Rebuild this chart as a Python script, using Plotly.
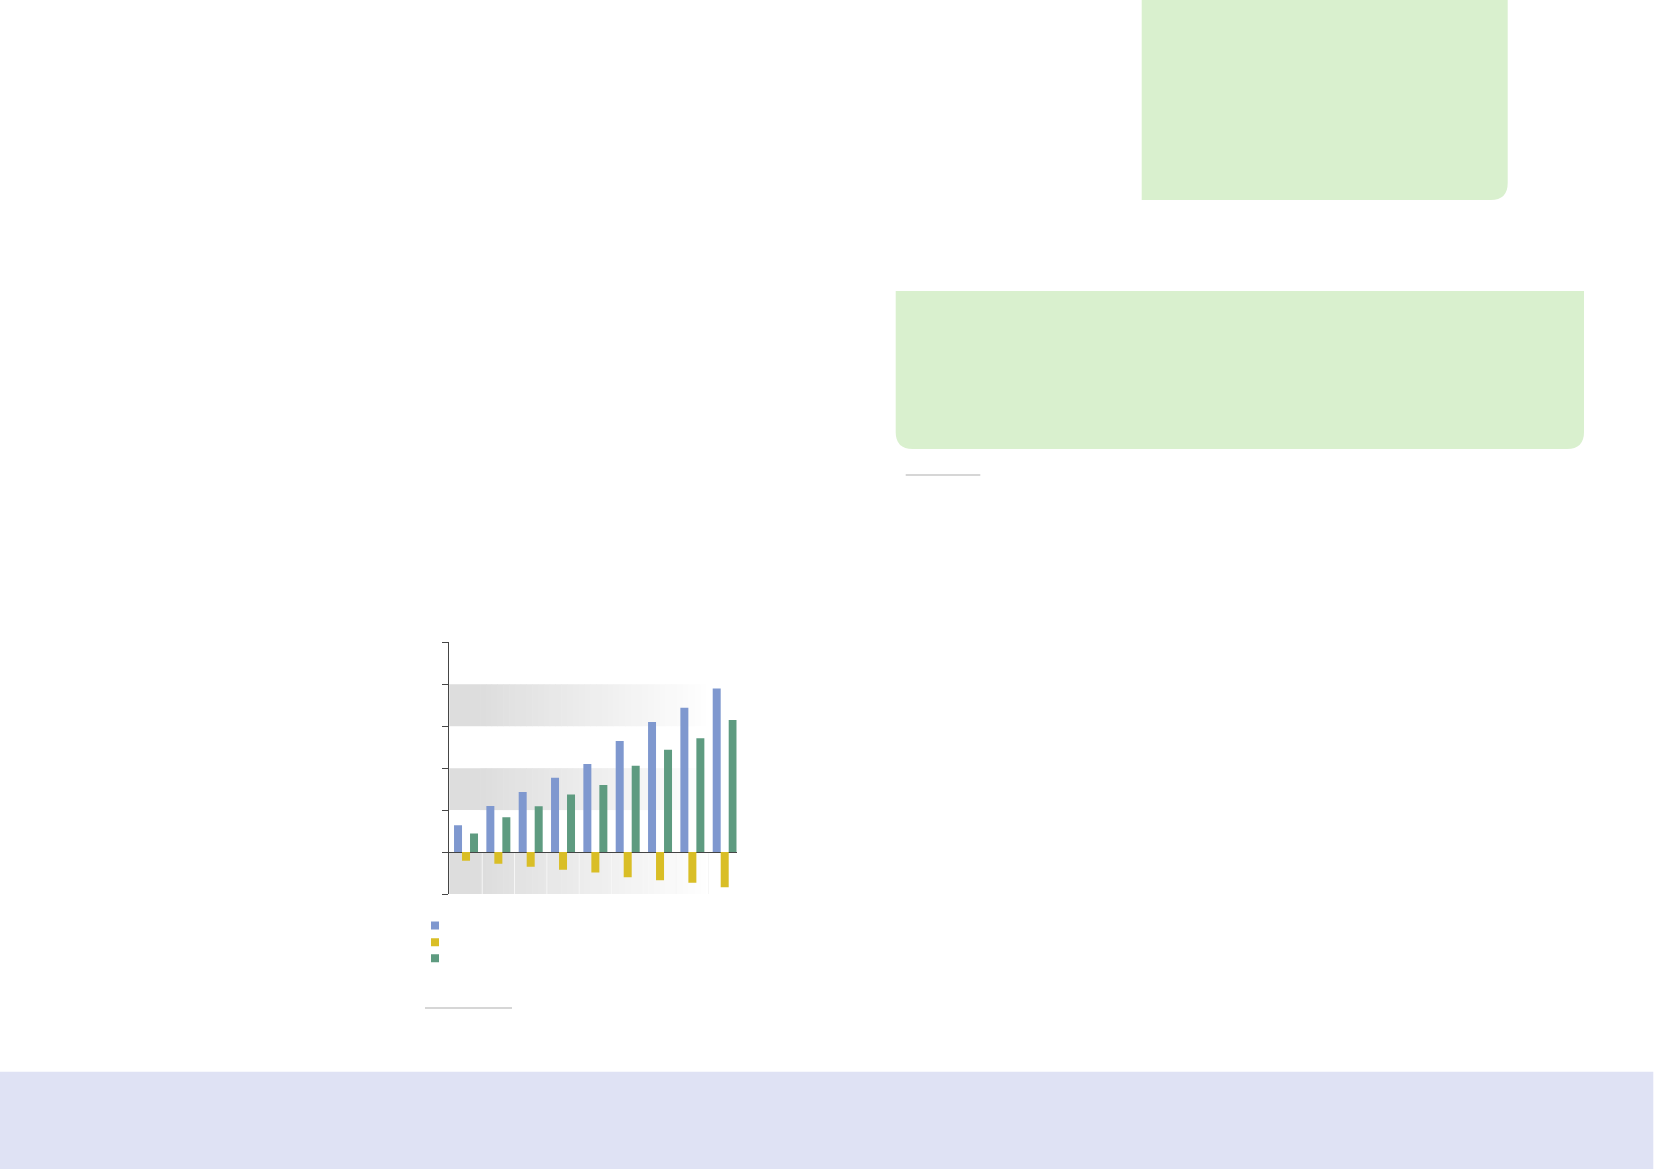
import plotly.graph_objects as go

W, H = 1654, 1169

# data (y units = one tick step)
categories = ["1", "2", "3", "4", "5", "6", "7", "8", "9"]
series_a = [0.64, 1.10, 1.43, 1.77, 2.10, 2.65, 3.10, 3.44, 3.90]
series_b = [-0.21, -0.28, -0.35, -0.42, -0.49, -0.60, -0.67, -0.73, -0.84]
series_c = [0.44, 0.83, 1.09, 1.37, 1.60, 2.06, 2.44, 2.71, 3.15]
y_ticks = [-1, 0, 1, 2, 3, 4, 5]

BLUE, YELLOW, GREEN = "#7f98cf", "#d9be26", "#5e9b80"
PALE_GREEN = "#d9f0ce"
LAVENDER = "#dfe2f4"
AXIS = "#454545"


def px(x):
    return x / W


def py(y):
    return 1 - y / H


fig = go.Figure()
for vals, col in [(series_a, BLUE), (series_b, YELLOW), (series_c, GREEN)]:
    fig.add_trace(go.Bar(x=categories, y=vals, marker=dict(color=col, line=dict(width=0)),
                         showlegend=False))
# legend keys (labels are empty in the source); one small legend per key for tight spacing
legend_tops = [911, 927.7, 943.7]
for k, (col, nm) in enumerate([(BLUE, " "), (YELLOW, "  "), (GREEN, "   ")]):
    fig.add_trace(go.Scatter(x=[None], y=[None], mode="markers", name=nm,
                             legend="legend" if k == 0 else f"legend{k + 1}",
                             marker=dict(symbol="square", size=8, color=col, line=dict(width=0))))

shapes = []

# shaded bands, fading to white towards the right
n_strips = 40
fade_start, fade_end = 0.107, 0.914
for lo, hi in [(3, 4), (1, 2), (-1, 0)]:
    shapes.append(dict(type="rect", xref="x domain", yref="y", x0=0, x1=fade_start, y0=lo, y1=hi,
                       fillcolor="#dddddd", line_width=0, layer="below"))
    for i in range(n_strips):
        t0 = fade_start + (fade_end - fade_start) * i / n_strips
        t1 = fade_start + (fade_end - fade_start) * (i + 1) / n_strips
        g = int(round(221 + (255 - 221) * (i + 0.5) / n_strips))
        shapes.append(dict(type="rect", xref="x domain", yref="y", x0=t0, x1=t1 + 0.002, y0=lo, y1=hi,
                           fillcolor=f"rgb({g},{g},{g})", line_width=0, layer="below"))
# faint separators between groups in the negative band
for i in range(len(categories) - 1):
    shapes.append(dict(type="line", xref="x", yref="y", x0=i + 0.5, x1=i + 0.5, y0=-1, y1=0,
                       line=dict(color="#f6f6f6", width=1), layer="below"))


def rounded_box(x0, y0, x1, y1, r, bl=False, br=False):
    rx, ry = r / W, r / H
    X0, X1, Y0, Y1 = px(x0), px(x1), py(y0), py(y1)
    p = f"M{X0},{Y0} L{X1},{Y0} "
    if br:
        p += f"L{X1},{Y1 + ry} Q{X1},{Y1} {X1 - rx},{Y1} "
    else:
        p += f"L{X1},{Y1} "
    if bl:
        p += f"L{X0 + rx},{Y1} Q{X0},{Y1} {X0},{Y1 + ry} "
    else:
        p += f"L{X0},{Y1} "
    p += "Z"
    return dict(type="path", xref="paper", yref="paper", path=p, fillcolor=PALE_GREEN,
                line_width=0, layer="below")


shapes.append(rounded_box(1141.7, 0, 1507.7, 200, 17, br=True))
shapes.append(rounded_box(895.7, 291, 1584, 449, 17, bl=True, br=True))
# bottom band
shapes.append(dict(type="rect", xref="paper", yref="paper", x0=0, x1=px(1653.3), y0=0, y1=py(1071.7),
                   fillcolor=LAVENDER, line_width=0, layer="below"))
# short rules
shapes.append(dict(type="line", xref="paper", yref="paper", x0=px(905.7), x1=px(980.3), y0=py(475), y1=py(475),
                   line=dict(color="#c8c8c8", width=1.5)))
shapes.append(dict(type="line", xref="paper", yref="paper", x0=px(425), x1=px(512), y0=py(1008), y1=py(1008),
                   line=dict(color="#c8c8c8", width=1.5)))

legend_style = dict(x=px(415), xanchor="left", yanchor="top", bgcolor="rgba(0,0,0,0)",
                    font=dict(family="Liberation Sans", size=10))

fig.update_layout(
    width=W, height=H,
    margin=dict(l=0, r=0, t=0, b=0),
    paper_bgcolor="white", plot_bgcolor="rgba(0,0,0,0)",
    barmode="group", bargap=0.258, bargroupgap=0,
    shapes=shapes,
    showlegend=True,
    legend=dict(y=py(legend_tops[0]), **legend_style),
    legend2=dict(y=py(legend_tops[1]), **legend_style),
    legend3=dict(y=py(legend_tops[2]), **legend_style),
    xaxis=dict(domain=[px(449.3), px(736.7)], range=[-0.517, 8.371], showticklabels=False,
               showgrid=False, zeroline=False, showline=False, ticks=""),
    yaxis=dict(domain=[py(894), py(642.3)], range=[-1, 5], tickvals=y_ticks, showticklabels=False,
               ticks="outside", ticklen=6, tickcolor=AXIS, tickwidth=1,
               showline=True, linecolor=AXIS, linewidth=1, showgrid=False,
               zeroline=True, zerolinecolor=AXIS, zerolinewidth=1),
)

# drop the page's default body margin so the figure sits at the window origin
fig.write_html("out.html", config={"displayModeBar": False},
               post_script="document.body.style.margin='0';document.body.style.overflow='hidden';")
